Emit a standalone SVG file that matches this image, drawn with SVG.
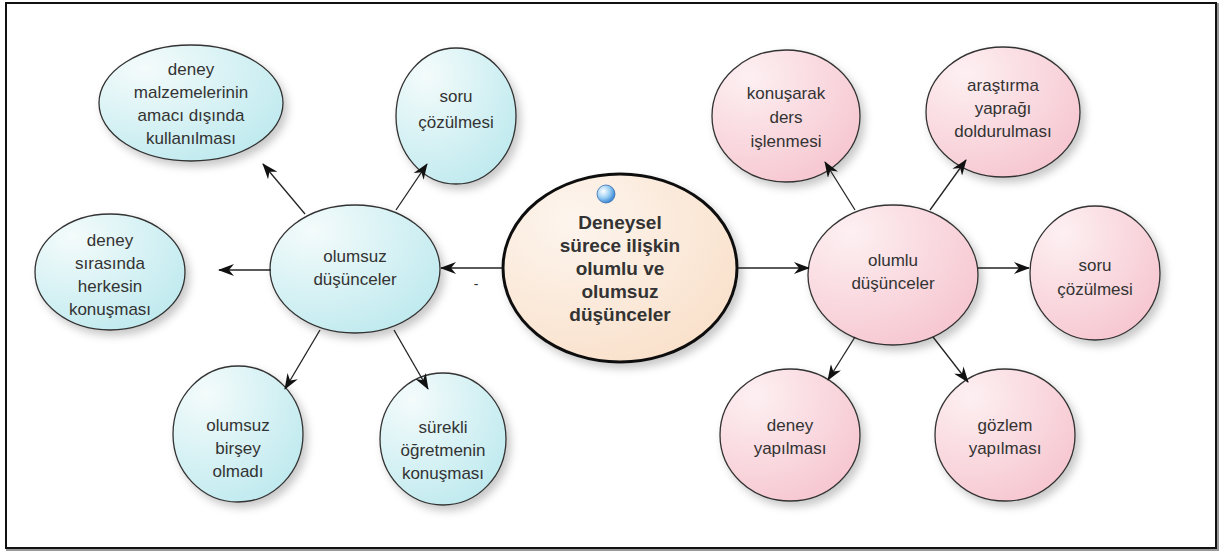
<svg xmlns="http://www.w3.org/2000/svg" width="1224" height="552" viewBox="0 0 1224 552">
  <style>
    .lbl { font-family: "Liberation Sans", Arial, sans-serif; font-size: 17px; fill: #333; text-anchor: middle; }
    .main { font-family: "Liberation Sans", Arial, sans-serif; font-size: 19px; font-weight: bold; fill: #333; text-anchor: middle; }
    .neg { fill: url(#gNeg); stroke: #333; stroke-width: 1.3; filter: url(#shadow); }
    .pos { fill: url(#gPos); stroke: #333; stroke-width: 1.3; filter: url(#shadow); }
    .edge { stroke: #222; stroke-width: 1.3; fill: none; marker-end: url(#arrow); }
  </style>
  <defs>
    <radialGradient id="gNeg" cx="0.25" cy="0.2" r="0.95">
      <stop offset="0" stop-color="#f4fbfb"/>
      <stop offset="1" stop-color="#bce9ee"/>
    </radialGradient>
    <radialGradient id="gPos" cx="0.25" cy="0.2" r="0.95">
      <stop offset="0" stop-color="#fdf0f2"/>
      <stop offset="1" stop-color="#f6c4ce"/>
    </radialGradient>
    <radialGradient id="gMain" cx="0.3" cy="0.25" r="0.9">
      <stop offset="0" stop-color="#fdf5ee"/>
      <stop offset="1" stop-color="#f9dfc8"/>
    </radialGradient>
    <radialGradient id="gBall" cx="0.35" cy="0.35" r="0.7">
      <stop offset="0" stop-color="#ffffff"/>
      <stop offset="0.5" stop-color="#9fd2f5"/>
      <stop offset="1" stop-color="#2f7fd0"/>
    </radialGradient>
    <filter id="shadow" x="-20%" y="-20%" width="150%" height="150%">
      <feDropShadow dx="4" dy="5" stdDeviation="4" flood-color="#000" flood-opacity="0.22"/>
    </filter>
    <marker id="arrow" viewBox="0 0 16 12" refX="15" refY="6" markerWidth="16" markerHeight="12" markerUnits="userSpaceOnUse" orient="auto">
      <path d="M0,0 L16,6 L0,12 L5,6 Z" fill="#111"/>
    </marker>
  </defs>

  <!-- frame -->
  <rect x="7" y="4" width="1211" height="546" fill="none" stroke="#999" stroke-width="2"/>
  <rect x="6" y="3" width="1210" height="545" fill="#fff" stroke="#111" stroke-width="2"/>

  <!-- central topic -->
  <g id="n-center">
    <ellipse cx="620" cy="268" rx="117" ry="94" fill="url(#gMain)" stroke="#111" stroke-width="3" filter="url(#shadow)"/>
    <circle cx="606" cy="194" r="9" fill="url(#gBall)" stroke="#3a6fb0" stroke-width="0.8"/>
    <text class="main"><tspan x="620" y="229">Deneysel</tspan><tspan x="620" y="252">sürece ilişkin</tspan><tspan x="620" y="275">olumlu ve</tspan><tspan x="620" y="298">olumsuz</tspan><tspan x="620" y="321">düşünceler</tspan></text>
  </g>

  <!-- negative branch -->
  <g id="n-olumsuz">
    <ellipse class="neg" cx="355" cy="269" rx="85" ry="64"/>
    <text class="lbl"><tspan x="355" y="262">olumsuz</tspan><tspan x="355" y="285">düşünceler</tspan></text>
  </g>
  <g id="n-malzeme">
    <ellipse class="neg" cx="191" cy="103" rx="92" ry="58"/>
    <text class="lbl"><tspan x="191" y="75">deney</tspan><tspan x="191" y="98">malzemelerinin</tspan><tspan x="191" y="121">amacı dışında</tspan><tspan x="191" y="144">kullanılması</tspan></text>
  </g>
  <g id="n-soru-neg">
    <ellipse class="neg" cx="456" cy="116" rx="60" ry="68"/>
    <text class="lbl"><tspan x="456" y="102">soru</tspan><tspan x="456" y="128">çözülmesi</tspan></text>
  </g>
  <g id="n-herkes">
    <ellipse class="neg" cx="110" cy="272" rx="75" ry="58"/>
    <text class="lbl"><tspan x="110" y="246">deney</tspan><tspan x="110" y="269">sırasında</tspan><tspan x="110" y="292">herkesin</tspan><tspan x="110" y="315">konuşması</tspan></text>
  </g>
  <g id="n-birsey">
    <ellipse class="neg" cx="238" cy="434" rx="65" ry="68"/>
    <text class="lbl"><tspan x="238" y="431">olumsuz</tspan><tspan x="238" y="454">birşey</tspan><tspan x="238" y="477">olmadı</tspan></text>
  </g>
  <g id="n-ogretmen">
    <ellipse class="neg" cx="443" cy="439" rx="63" ry="66"/>
    <text class="lbl"><tspan x="443" y="433">sürekli</tspan><tspan x="443" y="456">öğretmenin</tspan><tspan x="443" y="479">konuşması</tspan></text>
  </g>

  <!-- positive branch -->
  <g id="n-olumlu">
    <ellipse class="pos" cx="893" cy="275" rx="85" ry="70"/>
    <text class="lbl"><tspan x="893" y="266">olumlu</tspan><tspan x="893" y="289">düşünceler</tspan></text>
  </g>
  <g id="n-konusarak">
    <ellipse class="pos" cx="786" cy="116" rx="74" ry="66"/>
    <text class="lbl"><tspan x="786" y="99">konuşarak</tspan><tspan x="786" y="123">ders</tspan><tspan x="786" y="147">işlenmesi</tspan></text>
  </g>
  <g id="n-arastirma">
    <ellipse class="pos" cx="1003" cy="112" rx="77" ry="65"/>
    <text class="lbl"><tspan x="1003" y="91">araştırma</tspan><tspan x="1003" y="114">yaprağı</tspan><tspan x="1003" y="137">doldurulması</tspan></text>
  </g>
  <g id="n-soru-pos">
    <ellipse class="pos" cx="1095" cy="273" rx="65" ry="67"/>
    <text class="lbl"><tspan x="1095" y="271">soru</tspan><tspan x="1095" y="295">çözülmesi</tspan></text>
  </g>
  <g id="n-deney">
    <ellipse class="pos" cx="790" cy="435" rx="70" ry="66"/>
    <text class="lbl"><tspan x="790" y="431">deney</tspan><tspan x="790" y="454">yapılması</tspan></text>
  </g>
  <g id="n-gozlem">
    <ellipse class="pos" cx="1005" cy="435" rx="70" ry="66"/>
    <text class="lbl"><tspan x="1005" y="431">gözlem</tspan><tspan x="1005" y="454">yapılması</tspan></text>
  </g>

  <!-- connectors, drawn over the nodes so the arrowheads stay visible -->
  <g id="connectors">
    <line class="edge" x1="502" y1="268" x2="441" y2="268"/>
    <line class="edge" x1="305" y1="214" x2="263" y2="164"/>
    <line class="edge" x1="396" y1="210" x2="427" y2="164"/>
    <line class="edge" x1="271" y1="270" x2="219" y2="270"/>
    <line class="edge" x1="320" y1="330" x2="285" y2="389"/>
    <line class="edge" x1="394" y1="330" x2="428" y2="389"/>
    <line class="edge" x1="738" y1="268" x2="809" y2="268"/>
    <line class="edge" x1="855" y1="210" x2="825" y2="162"/>
    <line class="edge" x1="930" y1="210" x2="966" y2="160"/>
    <line class="edge" x1="978" y1="268" x2="1029" y2="268"/>
    <line class="edge" x1="855" y1="337" x2="828" y2="380"/>
    <line class="edge" x1="933" y1="337" x2="968" y2="382"/>
    <text x="476" y="289" class="lbl" style="font-size:14px">-</text>
  </g>
</svg>
